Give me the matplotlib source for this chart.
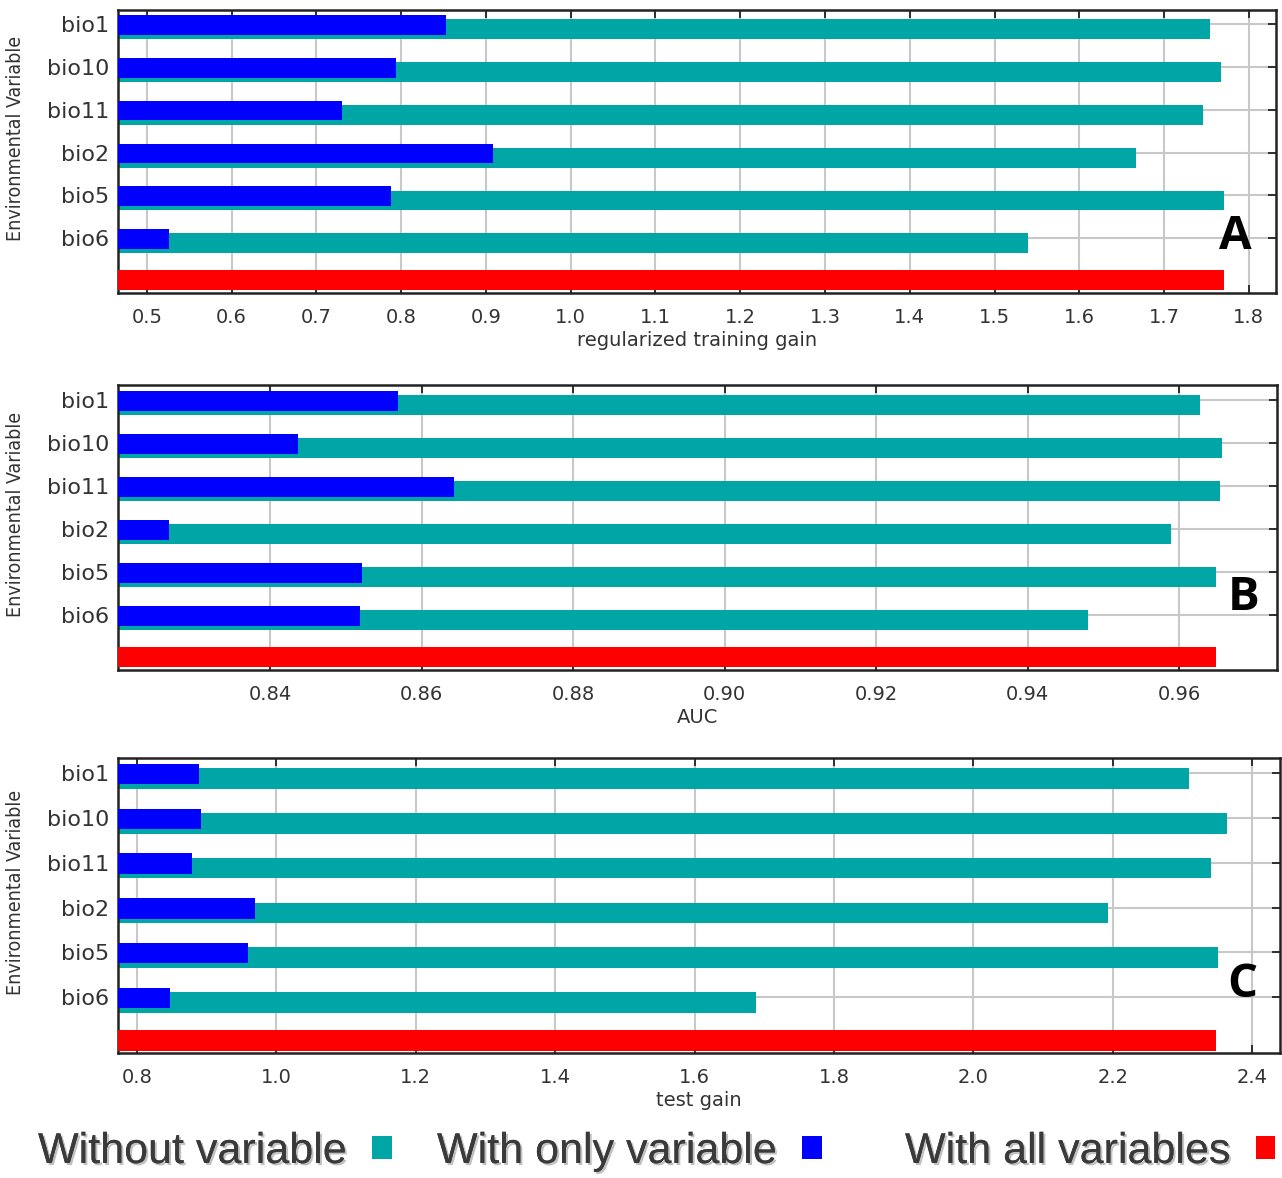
import matplotlib
matplotlib.use('Agg')
import matplotlib.pyplot as plt
import matplotlib.patheffects as pe
from matplotlib.patches import Patch

# Jackknife results for each environmental variable
variables = ['bio1', 'bio10', 'bio11', 'bio2', 'bio5', 'bio6']

train_without = [1.754, 1.767, 1.746, 1.667, 1.771, 1.539]
train_only = [0.853, 0.794, 0.730, 0.909, 0.788, 0.526]
train_all = 1.771

auc_without = [0.9628, 0.9657, 0.9654, 0.9589, 0.9648, 0.9479]
auc_only = [0.8569, 0.8437, 0.8643, 0.8267, 0.8521, 0.8519]
auc_all = 0.9648

test_without = [2.309, 2.364, 2.341, 2.193, 2.351, 1.688]
test_only = [0.889, 0.892, 0.879, 0.969, 0.959, 0.847]
test_all = 2.348

x_ticks_train = [0.5, 0.6, 0.7, 0.8, 0.9, 1.0, 1.1, 1.2, 1.3, 1.4, 1.5, 1.6, 1.7, 1.8]
x_ticks_auc = [0.84, 0.86, 0.88, 0.90, 0.92, 0.94, 0.96]
x_ticks_test = [0.8, 1.0, 1.2, 1.4, 1.6, 1.8, 2.0, 2.2, 2.4]

legend_labels = ['Without variable', 'With only variable', 'With all variables']

TEAL = '#00a6a6'
BLUE = '#0000ff'
RED = '#ff0000'
TEXT = '#333333'


def draw_panel(fig, rect, without, only, all_val, xlim, ylim, xticks, fmt, xlabel, letter, letter_pos):
    ax = fig.add_axes(rect)
    rows = list(range(len(variables)))

    # teal bar sits a little lower than the blue one
    ax.barh([r + 0.12 for r in rows], without, height=0.46, color=TEAL, zorder=2)
    ax.barh([r + 0.02 for r in rows], only, height=0.46, color=BLUE, zorder=3)
    ax.barh([len(variables) - 0.02], [all_val], height=0.47, color=RED, zorder=3)

    ax.set_xlim(*xlim)
    ax.set_ylim(*ylim)
    ax.set_xticks(xticks)
    ax.set_xticklabels([fmt.format(t) for t in xticks])
    ax.set_yticks(rows)
    ax.set_yticklabels(variables)

    ax.set_axisbelow(True)
    ax.grid(True, color='#c8c8c8', linewidth=1.5)
    ax.tick_params(axis='both', direction='in', top=True, right=True, left=False,
                   length=6, width=1.3, color='#222222', labelcolor=TEXT, labelsize=14)
    ax.tick_params(axis='x', pad=11)
    ax.tick_params(axis='y', pad=6, labelsize=16)
    for s in ax.spines.values():
        s.set_linewidth(1.8)
        s.set_color('#222222')

    ax.set_xlabel(xlabel, fontsize=14, color=TEXT, labelpad=3)
    ax.set_ylabel('Environmental Variable', fontsize=14, color=TEXT,
                  family=['Liberation Sans Narrow', 'DejaVu Sans'], fontstretch='condensed')
    ax.yaxis.set_label_coords(-0.08, 0.545)

    ax.text(letter_pos[0], letter_pos[1], letter, transform=ax.transAxes, ha='center', va='center',
            fontsize=34, fontweight='bold', family=['Open Sans', 'DejaVu Sans'], color='black')
    return ax


fig = plt.figure(figsize=(12.82, 11.78), dpi=100)

draw_panel(fig, [0.0920, 0.7513, 0.9033, 0.2402], train_without, train_only, train_all,
           (0.466, 1.832), (6.28, -0.33), x_ticks_train, '{:.1f}',
           'regularized training gain', 'A', (0.9646, 0.198))
draw_panel(fig, [0.0920, 0.4312, 0.9041, 0.2419], auc_without, auc_only, auc_all,
           (0.8199, 0.9729), (6.28, -0.35), x_ticks_auc, '{:.2f}',
           'AUC', 'B', (0.971, 0.253))
draw_panel(fig, [0.0920, 0.1061, 0.9064, 0.2504], test_without, test_only, test_all,
           (0.7727, 2.440), (6.25, -0.34), x_ticks_test, '{:.1f}',
           'test gain', 'C', (0.968, 0.231))

# legend row at the bottom: text first, then a small square
shadow = [pe.withSimplePatchShadow(offset=(1.5, -1.5), shadow_rgbFace='#999999', alpha=0.6), pe.Normal()]
legend_x = [38, 437, 905]
for label, color, x0 in zip(legend_labels, [TEAL, BLUE, RED], legend_x):
    leg = fig.legend(handles=[Patch(facecolor=color, edgecolor='none')], labels=[label],
                     loc='center left', bbox_to_anchor=(x0 / 1282, 1 - 1152 / 1178),
                     markerfirst=False, frameon=False, handlelength=0.45,
                     handleheight=0.42, handletextpad=0.6, borderpad=0, borderaxespad=0,
                     prop={'family': ['Liberation Sans', 'DejaVu Sans'], 'size': 31})
    for t in leg.get_texts():
        t.set_color('#3a3a3a')
        t.set_path_effects(shadow)

fig.savefig('out.png', dpi=100)
